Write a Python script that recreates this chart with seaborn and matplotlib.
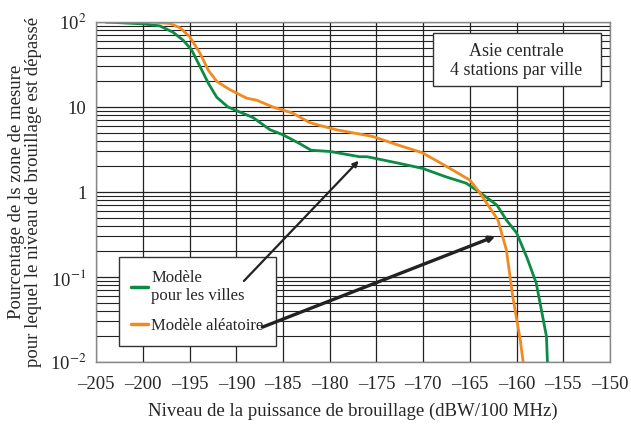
import numpy as np
import pandas as pd
import seaborn as sns
import matplotlib.pyplot as plt
from matplotlib.patches import Rectangle
from matplotlib.ticker import FixedLocator, MultipleLocator, NullFormatter

# Urban model ("Modèle pour les villes")
urban_x = [-204.0, -200.0, -198.2, -196.8, -195.7, -194.8, -193.9, -193.0, -192.1,
           -190.9, -189.6, -188.2, -186.4, -185.0, -183.2, -182.0, -180.0, -176.8,
           -176.0, -172.8, -170.1, -167.5, -165.4, -164.0, -162.1, -161.1, -160.0,
           -158.9, -157.9, -156.8, -156.7]
urban_y = [100, 95, 90, 76, 61, 47, 30, 19, 13,
           10, 8.7, 7.5, 5.4, 4.7, 3.7, 3.1, 3.0, 2.6,
           2.6, 2.2, 1.9, 1.5, 1.27, 1.0, 0.7, 0.47, 0.33,
           0.17, 0.085, 0.02, 0.01]

# Random model ("Modèle aléatoire")
random_x = [-204.0, -199.3, -197.1, -196.0, -195.0, -193.9, -193.0, -192.1, -190.7,
            -188.9, -187.8, -186.1, -184.0, -182.2, -181.4, -179.3, -175.4, -172.8,
            -170.1, -167.5, -165.0, -164.0, -162.9, -162.0, -161.1, -160.4, -159.6,
            -159.3]
random_y = [100, 100, 96, 85, 67, 43, 27, 20, 16,
            12.7, 12, 10, 8.5, 6.6, 6.2, 5.4, 4.5, 3.6,
            2.9, 2.0, 1.38, 1.0, 0.66, 0.47, 0.21, 0.058, 0.018,
            0.01]

x_ticks = [-205, -200, -195, -190, -185, -180, -175, -170, -165, -160, -155, -150]
y_ticks = [1e-2, 1e-1, 1, 10, 100]
y_tick_labels = ["10$^{-2}$", "10$^{-1}$", "1", "10", "10$^{2}$"]

urban_label = "Modèle\npour les villes"
random_label = "Modèle aléatoire"

df = pd.concat([
    pd.DataFrame({"x": urban_x, "y": urban_y, "model": urban_label}),
    pd.DataFrame({"x": random_x, "y": random_y, "model": random_label}),
])

sns.set_style("white")
plt.rcParams["font.family"] = ["Liberation Serif", "DejaVu Serif"]
plt.rcParams["mathtext.fontset"] = "stix"

green = "#0b8b45"
orange = "#f28a1e"
ink = "#222222"

fig = plt.figure(figsize=(6.31, 4.28), dpi=100)
ax = fig.add_axes([0.1526, 0.1542, 0.8141, 0.7944])

ax.set_yscale("log")
ax.set_xlim(-205, -150)
ax.set_ylim(1e-2, 100)

# grid: every 5 dB vertically, log minor steps horizontally
ax.xaxis.set_major_locator(FixedLocator(x_ticks))
ax.xaxis.set_minor_locator(MultipleLocator(1))
minor_y = [m * 10.0 ** e for e in range(-2, 2) for m in range(2, 10)]
ax.yaxis.set_major_locator(FixedLocator(y_ticks))
ax.yaxis.set_minor_locator(FixedLocator(minor_y))
ax.yaxis.set_minor_formatter(NullFormatter())
ax.set_yticklabels(y_tick_labels)
ax.set_xticklabels(["\u2013" + str(abs(v)) for v in x_ticks])

ax.grid(True, which="major", axis="both", color=ink, lw=0.9)
ax.grid(True, which="minor", axis="y", color=ink, lw=0.8)
ax.set_axisbelow(True)

sns.lineplot(data=df, x="x", y="y", hue="model", sort=False,
             palette={urban_label: green, random_label: orange},
             lw=2.0, ax=ax, legend=False)

for s in ax.spines.values():
    s.set_color("#888888")
    s.set_linewidth(1.0)

ax.tick_params(axis="x", which="major", direction="out", length=4, width=1, color=ink,
               labelsize=13.5, pad=6)
ax.tick_params(axis="x", which="minor", direction="in", length=2, width=0.8, color=ink)
ax.tick_params(axis="y", which="major", direction="out", length=4, width=1, color=ink,
               labelsize=13.5, pad=3)
ax.tick_params(axis="y", which="minor", length=0)
ax.tick_params(top=False, right=False)

ax.set_xlabel("Niveau de la puissance de brouillage (dBW/100 MHz)", fontsize=13.5, labelpad=7)
ax.set_ylabel("Pourcentage de ls zone de mesure\npour lequel le niveau de brouillage est dépassé",
              fontsize=13.5, labelpad=6, linespacing=1.0)

# region note in a framed box
ax.add_patch(Rectangle((-169.0, 17.7), 18.0, 74.2 - 17.7, transform=ax.transData,
                       fc="white", ec="#333333", lw=1.0, zorder=4))
ax.text(-160.0, 34.5, "Asie centrale\n4 stations par ville", ha="center", va="center",
        fontsize=13, linespacing=1.15, zorder=5)

# legend
handles = [plt.Line2D([], [], color=green, lw=2.5), plt.Line2D([], [], color=orange, lw=2.5)]
leg = ax.legend(handles, [urban_label, random_label], loc="lower left",
                bbox_to_anchor=(0.044, 0.047), frameon=True, fancybox=False,
                fontsize=12, handlelength=1.0, handletextpad=0.2, borderpad=0.75,
                labelspacing=0.8, framealpha=1, borderaxespad=0)
leg.get_frame().set_edgecolor("#333333")
leg.get_frame().set_linewidth(1.0)
leg.set_zorder(5)

# pointers from the legend to the curves
ax.annotate("", xy=(-176.7, 2.46), xytext=(-189.4, 0.085),
            arrowprops=dict(arrowstyle="-|>", color=ink, lw=1.6, mutation_scale=8),
            zorder=6)
ax.annotate("", xy=(-162.0, 0.31), xytext=(-187.5, 0.025),
            arrowprops=dict(arrowstyle="-|>", color=ink, lw=2.4, mutation_scale=8),
            zorder=6)

fig.savefig("out.png", dpi=100)
